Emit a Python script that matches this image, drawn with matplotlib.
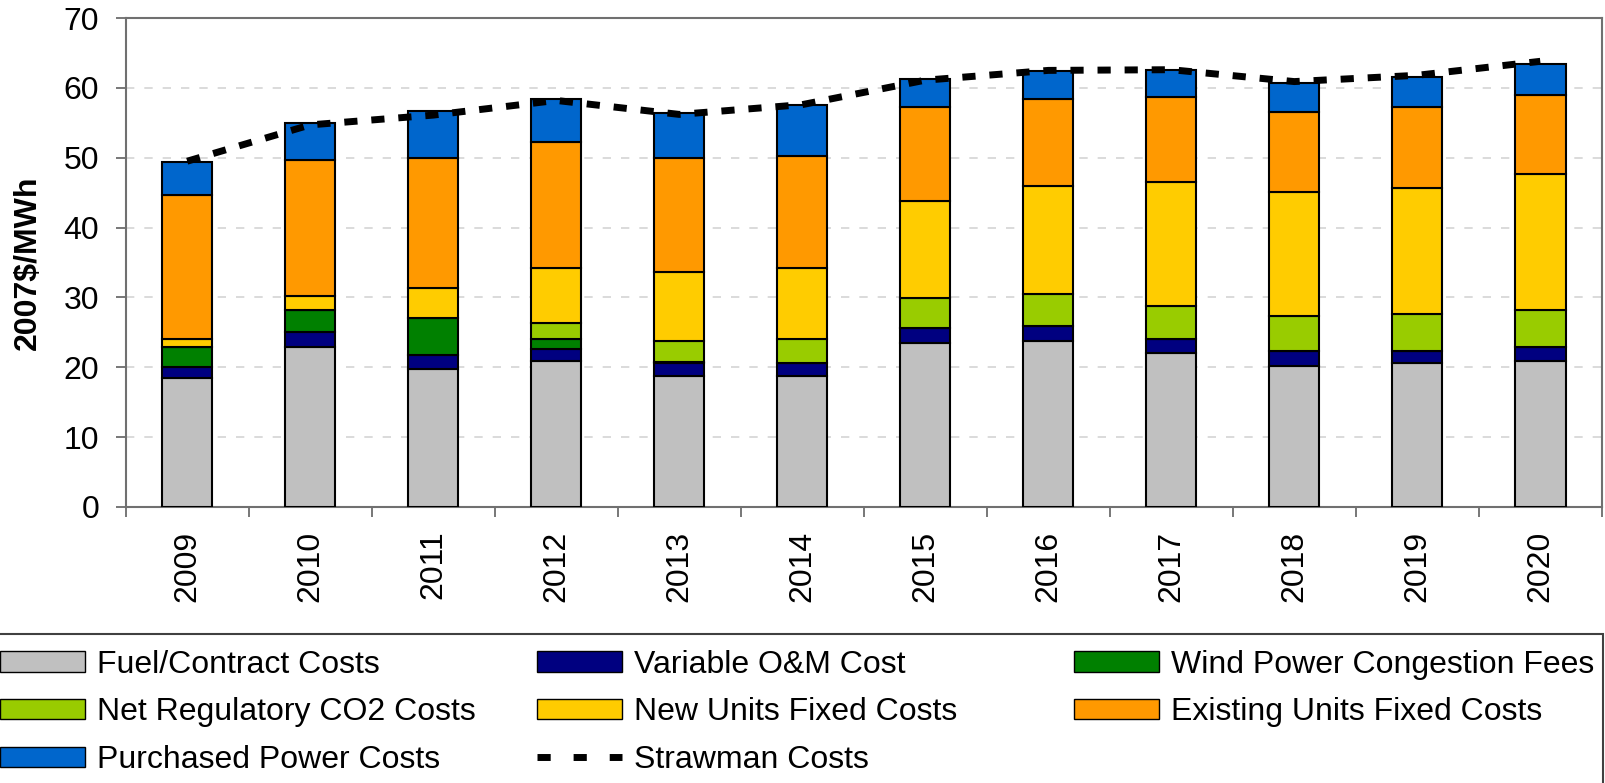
import numpy as np
from matplotlib import pyplot as plt
from matplotlib.patches import Patch, Rectangle
from matplotlib.lines import Line2D

plt.rcParams['font.family'] = ['Liberation Sans', 'DejaVu Sans']

years = ['2009', '2010', '2011', '2012', '2013', '2014',
         '2015', '2016', '2017', '2018', '2019', '2020']

fuel = [18.5, 22.9, 19.7, 20.85, 18.8, 18.75, 23.5, 23.8, 22.1, 20.2, 20.55, 20.9]
var_om = [1.5, 2.1, 2.1, 1.75, 1.85, 1.85, 2.1, 2.05, 2.0, 2.2, 1.85, 2.05]
wind = [2.9, 3.15, 5.2, 1.45, 0.15, 0, 0, 0, 0, 0, 0, 0]
co2 = [0, 0, 0, 2.35, 3.0, 3.5, 4.3, 4.7, 4.7, 4.95, 5.2, 5.25]
new_units = [1.2, 2.1, 4.4, 7.85, 9.9, 10.15, 13.95, 15.4, 17.7, 17.7, 18.0, 19.45]
existing = [20.6, 19.45, 18.6, 18.05, 16.3, 16.05, 13.4, 12.45, 12.2, 11.55, 11.65, 11.3]
purchased = [4.7, 5.2, 6.7, 6.1, 6.35, 7.2, 4.05, 4.05, 3.8, 4.15, 4.35, 4.4]
strawman = [49.5, 54.7, 56.1, 58.2, 56.2, 57.6, 61.1, 62.5, 62.6, 60.9, 61.8, 63.8]

series = [
    ('Fuel/Contract Costs', fuel, '#C0C0C0'),
    ('Variable O&M Cost', var_om, '#000080'),
    ('Wind Power Congestion Fees', wind, '#008000'),
    ('Net Regulatory CO2 Costs', co2, '#99CC00'),
    ('New Units Fixed Costs', new_units, '#FFCC00'),
    ('Existing Units Fixed Costs', existing, '#FF9900'),
    ('Purchased Power Costs', purchased, '#0066CC'),
]

fs = 23
fig = plt.figure(figsize=(16.05, 7.83), dpi=100)
ax = fig.add_axes([0.0783, 0.3525, 0.9197, 0.6245])

x = np.arange(len(years))
bottom = np.zeros(len(years))
handles = {}
for name, vals, col in series:
    vals = np.array(vals)
    ax.bar(x, vals, 0.41, bottom=bottom, color=col, edgecolor='black',
           linewidth=1.5, zorder=3)
    handles[name] = Patch(facecolor=col, edgecolor='black', linewidth=1.0)
    bottom += vals

dash = (0, (1.9, 2.0))
ax.plot(x, strawman, color='black', lw=5, linestyle=dash,
        dash_capstyle='butt', zorder=5)
handles['Strawman Costs'] = Line2D([], [], color='black', lw=5,
                                   linestyle=(0, (1.9, 3.3)), dash_capstyle='butt')

ax.set_xlim(-0.5, len(years) - 0.5)
ax.set_ylim(0, 70)
ax.set_yticks(np.arange(0, 71, 10))
ax.yaxis.grid(True, color='#d4d4d4', linestyle=(0, (5, 6)), lw=1.2, zorder=0)
ax.set_axisbelow(True)

ax.set_xticks(np.arange(-0.5, len(years), 1.0))
ax.set_xticklabels([])
ax.set_xticks(x, minor=True)
ax.set_xticklabels(years, minor=True, rotation=90)
ax.tick_params(axis='x', which='major', length=7, width=1.2, color='#606060')
ax.tick_params(axis='x', which='minor', length=0, pad=17, labelsize=fs)
ax.tick_params(axis='y', length=7, width=1.2, color='#606060', pad=12, labelsize=fs)

for s in ax.spines.values():
    s.set_color('#707070')
    s.set_linewidth(1.5)

ax.set_ylabel('2007$/MWh', fontsize=fs, fontweight='bold')
ax.yaxis.set_label_coords(-0.056, 0.5)

# legend, three columns on a fixed grid
cols = [['Fuel/Contract Costs', 'Net Regulatory CO2 Costs', 'Purchased Power Costs'],
        ['Variable O&M Cost', 'New Units Fixed Costs', 'Strawman Costs'],
        ['Wind Power Congestion Fees', 'Existing Units Fixed Costs']]
col_x = [0.0, 0.3346, 0.6692]
for cx, names in zip(col_x, cols):
    fig.legend([handles[n] for n in names], names, loc='upper left',
               bbox_to_anchor=(cx, 0.170), frameon=False, fontsize=fs,
               borderpad=0, borderaxespad=0, handlelength=2.66,
               handleheight=0.6, handletextpad=0.38, labelspacing=0.55)

fig.add_artist(Rectangle((-0.01, -0.05), 1.0085, 0.2403, transform=fig.transFigure,
                         fill=False, edgecolor='#404040', lw=1.5))

fig.savefig('out.png', dpi=100)
